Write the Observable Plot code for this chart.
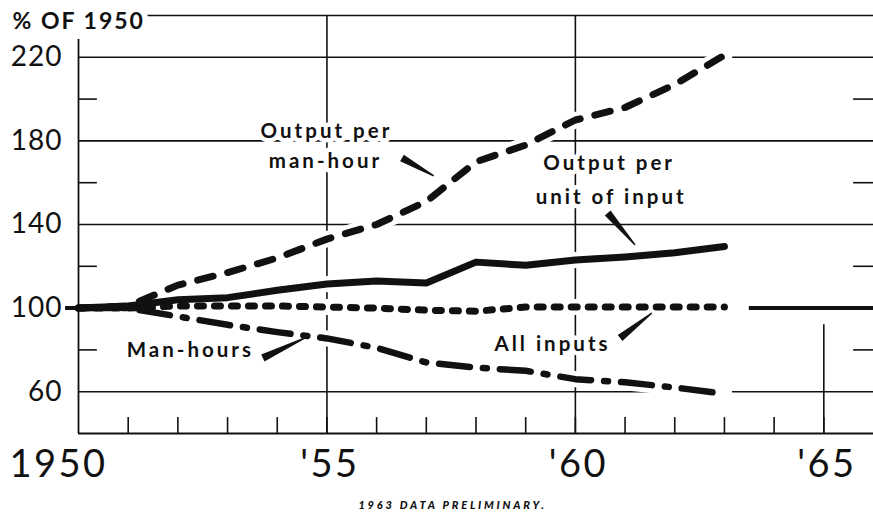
<!DOCTYPE html>
<html><head><meta charset="utf-8">
<script src="https://cdn.jsdelivr.net/npm/d3@7"></script>
<script src="https://cdn.jsdelivr.net/npm/@observablehq/plot@0.6"></script>
<style>
body{margin:0;background:#fff;}
#chart{width:873px;height:512px;position:relative;overflow:hidden;}
#caption{position:absolute;left:16px;width:873px;top:498px;text-align:center;font:italic 900 11px Lato, sans-serif;letter-spacing:2.8px;color:#111;}
</style></head><body><div id="chart"></div>
<script>
// ---- data ----
const years = [1950,1951,1952,1953,1954,1955,1956,1957,1958,1959,1960,1961,1962,1963];
const outputPerManHour = [100,101,111,117,124,133,140,151,170,178,190,196,207,221];
const outputPerUnitInput = [100,101,104,105,108.5,111.5,113,112,122,120.5,123,124.5,126.5,129.5];
const allInputs = [100,100,101,101,101,100.5,100,99,98.5,100.5,100.5,100.5,100.5,100.5];
const manHours = [100,100,96,92,88.5,85.5,81,74,71.5,70,66,64.5,62,59];

const yTickValues = [220,180,140,100,60];
const yMinorTicks = [200,160,120,80];
const xTickYears = [1950,1955,1960,1965];
const xTickLabels = ["1950","'55","'60","'65"];
const yearTicks = [1951,1952,1953,1954,1955,1956,1957,1958,1959,1960,1961,1962,1963,1964,1965];

const unitLabel = "% OF 1950";
const footNote = "1963 DATA PRELIMINARY.";

const annText = ["Output per","man-hour","Output per","unit of input","All inputs","Man-hours"];
const annX = [1954.99,1954.97,1960.68,1960.72,1959.54,1952.25];
const annY = [181.6,166.8,166.3,150.0,79.7,76.4];

// pointer wedges: wide end (x0,y0) -> tip (x1,y1)
const ptrX0 = [1956.52,1960.66,1960.91,1953.72];
const ptrY0 = [171.6,145.3,85.5,75.9];
const ptrX1 = [1957.16,1961.21,1961.55,1954.57];
const ptrY1 = [163.0,130.0,97.4,85.5];

// ---- build tables ----
const rows = (vals) => years.map((year, i) => ({year, value: vals[i]}));
const sMH = rows(outputPerManHour), sUI = rows(outputPerUnitInput), sAI = rows(allInputs), sMHr = rows(manHours);
const ann = annText.map((t, i) => ({t, x: annX[i], y: annY[i]}));
const ptrs = ptrX0.map((d, i) => ({x0: d, y0: ptrY0[i], x1: ptrX1[i], y1: ptrY1[i]}));
const halo = (d) => d.filter(r => r.year >= 1951);

function wedges(data) {
  return (index, scales) => {
    const g = d3.create("svg:g");
    for (const p of data) {
      const sx = scales.x(p.x0), sy = scales.y(p.y0), ex = scales.x(p.x1), ey = scales.y(p.y1);
      const dx = ex - sx, dy = ey - sy, L = Math.hypot(dx, dy);
      const nx = -dy / L, ny = dx / L, w0 = 3.8, w1 = 0.7;
      const pts = [[sx+nx*w0, sy+ny*w0],[ex+nx*w1, ey+ny*w1],[ex-nx*w1, ey-ny*w1],[sx-nx*w0, sy-ny*w0]];
      g.append("polygon").attr("points", pts.map(d => d.join(",")).join(" ")).attr("fill", "#111");
    }
    return g.node();
  };
}

const ink = "#111";
const plot = Plot.plot({
  width: 873, height: 496,
  marginLeft: 78, marginRight: 0, marginTop: 15, marginBottom: 63,
  x: {domain: [1950, 1966], axis: null},
  y: {domain: [40, 240], axis: null},
  style: {background: "white", overflow: "visible", fontFamily: "Lato, sans-serif", color: ink},
  marks: [
    // frame & grid
    Plot.ruleY([240], {x1: 1951.4, x2: 1966, stroke: ink, strokeWidth: 1.6}),
    Plot.ruleY([220,180,140,60], {x1: 1950, x2: 1966, stroke: ink, strokeWidth: 1.6}),
    Plot.ruleX([1955,1960], {y1: 40, y2: 240, stroke: ink, strokeWidth: 1.6}),
    Plot.ruleX([1965], {y1: 40, y2: 92, stroke: ink, strokeWidth: 1.6}),
    // annotation text with white halo
    Plot.text(ann, {x: "x", y: "y", text: "t", textAnchor: "middle", lineAnchor: "bottom", fontSize: 20.5, fontWeight: 700, fill: ink, stroke: "white", strokeWidth: 9, paintOrder: "stroke"}),
    // series halos
    Plot.line(halo(sMH), {x: "year", y: "value", stroke: "white", strokeWidth: 16, strokeLinecap: "round"}),
    Plot.line(halo(sUI), {x: "year", y: "value", stroke: "white", strokeWidth: 16, strokeLinecap: "round"}),
    Plot.line(halo(sAI), {x: "year", y: "value", stroke: "white", strokeWidth: 16, strokeLinecap: "round"}),
    Plot.line(halo(sMHr), {x: "year", y: "value", stroke: "white", strokeWidth: 16, strokeLinecap: "round"}),
    // axes
    Plot.ruleX([1950], {y1: 40, y2: 228.5, stroke: ink, strokeWidth: 1.8}),
    Plot.ruleY([40], {x1: 1950, x2: 1966, stroke: ink, strokeWidth: 2.2}),
    Plot.ruleX(yearTicks, {y1: 40, y2: 47.6, stroke: ink, strokeWidth: 1.6}),
    Plot.ruleY(yMinorTicks, {x1: 1950, x2: 1950.38, stroke: ink, strokeWidth: 1.6}),
    Plot.ruleY(yMinorTicks, {x1: 1965.6, x2: 1966, stroke: ink, strokeWidth: 1.6}),
    Plot.ruleY([100], {x1: 1949.74, x2: 1951, stroke: ink, strokeWidth: 4}),
    Plot.ruleY([100], {x1: 1963.5, x2: 1966, stroke: ink, strokeWidth: 4}),
    // series
    Plot.line(sUI, {x: "year", y: "value", stroke: ink, strokeWidth: 7, strokeLinejoin: "round"}),
    Plot.line(sMH, {x: "year", y: "value", stroke: ink, strokeWidth: 7, strokeDasharray: "16,15", strokeLinecap: "round", strokeLinejoin: "round"}),
    Plot.line(sAI, {x: "year", y: "value", stroke: ink, strokeWidth: 7, strokeDasharray: "6,11", strokeLinecap: "round", strokeLinejoin: "round"}),
    Plot.line(sMHr, {x: "year", y: "value", stroke: ink, strokeWidth: 6.5, strokeDasharray: "31,13,4,13", strokeLinecap: "round", strokeLinejoin: "round"}),
    // pointers
    wedges(ptrs),
    // tick labels
    Plot.text(yTickValues, {x: 1950, y: d => d, text: d => String(d), textAnchor: "end", dx: -16, fontSize: 28, fill: ink}),
    Plot.text([xTickYears[0]], {x: d => d, y: 40, text: () => xTickLabels[0], dx: -20, dy: 31, fontSize: 38, fill: ink}),
    Plot.text(xTickYears.slice(1), {x: d => d, y: 40, text: (d, i) => xTickLabels[i + 1], dx: 3, dy: 31, fontSize: 38, fill: ink}),
    Plot.text([unitLabel], {x: 1950, y: 240, text: d => d, textAnchor: "start", dx: -66, dy: 6.5, fontSize: 23, fontWeight: 700, fill: ink})
  ]
});
plot.querySelectorAll("text").forEach(t => {
  const s = t.textContent;
  if (annText.includes(s)) t.setAttribute("letter-spacing", "3");
  else if (s === unitLabel) t.setAttribute("letter-spacing", "2");
  else if (xTickLabels.includes(s)) t.setAttribute("letter-spacing", "2.5");
  else t.setAttribute("letter-spacing", "1");
});
const chart = document.getElementById("chart");
chart.appendChild(plot);
const cap = document.createElement("div");
cap.id = "caption";
cap.textContent = footNote;
chart.appendChild(cap);
</script>
</body></html>
